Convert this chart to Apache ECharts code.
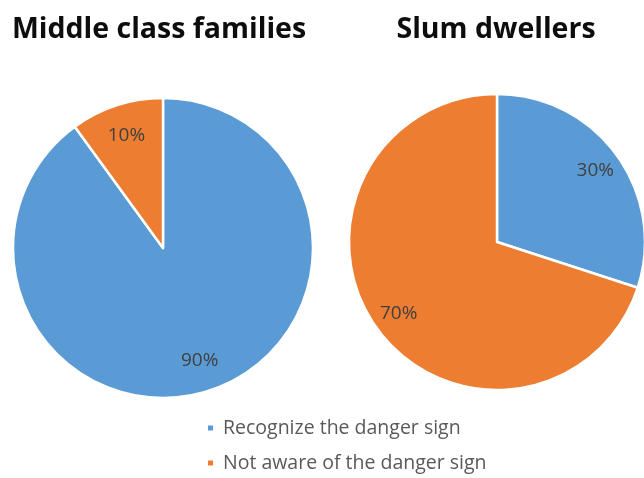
<!DOCTYPE html>
<html>
<head>
<meta charset="utf-8">
<script src="https://cdn.jsdelivr.net/npm/echarts@6/dist/echarts.min.js"></script>
<style>
  html, body { margin: 0; padding: 0; background: #fff; }
  #chart { width: 644px; height: 478px; }
</style>
</head>
<body>
<div id="chart"></div>
<script>
// Awareness of the danger sign, two surveyed groups
const categories = ['Recognize the danger sign', 'Not aware of the danger sign'];
const groupTitles = ['Middle class families', 'Slum dwellers'];
const middleClassValues = [90, 10];
const slumDwellerValues = [30, 70];

const sliceColors = ['#5B9BD5', '#ED7D31'];

function toData(values) {
  return categories.map((name, i) => ({ name, value: values[i] }));
}

// One pie per group: a visible pie plus a transparent ring of the same
// data that only carries the percentage labels further out from the centre.
function pieSeries(values, center, radius, labelRatio) {
  const data = toData(values);
  return [
    {
      type: 'pie',
      center,
      radius,
      startAngle: 90,
      clockwise: true,
      silent: true,
      data,
      label: { show: false },
      labelLine: { show: false },
      itemStyle: { borderColor: '#ffffff', borderWidth: 2.5 }
    },
    {
      type: 'pie',
      center,
      radius: [Math.round(radius * (2 * labelRatio - 1)), radius],
      startAngle: 90,
      clockwise: true,
      silent: true,
      data,
      itemStyle: { color: 'rgba(0,0,0,0)', borderWidth: 0 },
      label: {
        show: true,
        position: 'inside',
        formatter: p => p.value + '%',
        color: '#404040',
        fontFamily: 'Open Sans',
        fontSize: 19
      },
      labelLine: { show: false }
    }
  ];
}

const chart = echarts.init(document.getElementById('chart'), null, { renderer: 'canvas' });

const titleStyle = { fontFamily: 'Open Sans', fontWeight: 'bold', fontSize: 28.5, color: '#0d0d0d' };

chart.setOption({
  backgroundColor: '#ffffff',
  color: sliceColors,
  animation: false,
  title: [
    { text: groupTitles[0], left: 154, top: 10, textAlign: 'center', textStyle: titleStyle },
    { text: groupTitles[1], left: 491, top: 10, textAlign: 'center', textStyle: titleStyle }
  ],
  legend: {
    orient: 'vertical',
    left: 206,
    top: 418,
    height: 60,
    icon: 'rect',
    itemWidth: 7,
    itemHeight: 7,
    itemGap: 15,
    padding: 0,
    selectedMode: false,
    data: categories,
    textStyle: {
      fontFamily: 'Open Sans',
      fontSize: 19.5,
      color: '#595959',
      padding: [0, 0, 0, 4]
    }
  },
  series: [
    ...pieSeries(middleClassValues, [163, 248], 150, 0.77),
    ...pieSeries(slumDwellerValues, [497, 242], 148, 0.8)
  ]
});
</script>
</body>
</html>
